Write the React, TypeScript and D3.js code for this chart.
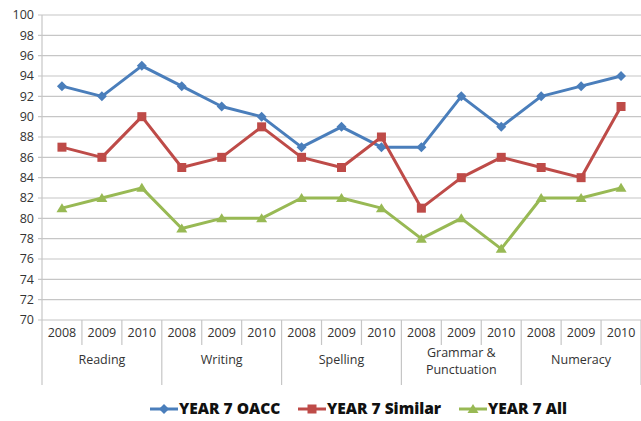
import React from "react";
import * as d3 from "d3";

const years = ["2008", "2009", "2010"];
const groups = ["Reading", "Writing", "Spelling", "Grammar &\nPunctuation", "Numeracy"];
const oacc = [93, 92, 95, 93, 91, 90, 87, 89, 87, 87, 92, 89, 92, 93, 94];
const similar = [87, 86, 90, 85, 86, 89, 86, 85, 88, 81, 84, 86, 85, 84, 91];
const all = [81, 82, 83, 79, 80, 80, 82, 82, 81, 78, 80, 77, 82, 82, 83];
const yTicks = d3.range(70, 101, 2);

const seriesNames = ["YEAR 7 OACC", "YEAR 7 Similar", "YEAR 7 All"];
const seriesColors = ["#4a7ebb", "#be4b48", "#98b954"];

const W = 641, H = 421;
const left = 42, right = 641, top = 15, bottom = 320;
const font = "'Open Sans', 'Noto Sans', sans-serif";

function Marker({ kind, x, y, color }: { kind: number; x: number; y: number; color: string }) {
  if (kind === 0) {
    const s = 5;
    return <path d={`M${x},${y - s}L${x + s},${y}L${x},${y + s}L${x - s},${y}Z`} fill={color} />;
  }
  if (kind === 1) {
    return <rect x={x - 4.5} y={y - 4.5} width={9} height={9} fill={color} />;
  }
  return <path d={`M${x},${y - 5}L${x + 5.5},${y + 4}L${x - 5.5},${y + 4}Z`} fill={color} />;
}

export default function App() {
  const cats = groups.flatMap((g, gi) => years.map((yr) => `${gi}-${yr}`));
  const x = d3.scaleBand<string>().domain(cats).range([left, right]);
  const y = d3.scaleLinear().domain([70, 100]).range([bottom, top]);
  const series = [oacc, similar, all];
  const line = d3
    .line<number>()
    .x((_, i) => (x(cats[i]) as number) + x.bandwidth() / 2)
    .y((d) => y(d));
  const bw = x.bandwidth();

  const legendX = [150, 298, 459];
  const ly = 409;

  return (
    <svg width={W} height={H} style={{ position: "absolute", left: 0, top: 0, background: "#fff" }} fontFamily={font}>
      {yTicks.map((t) => (
        <g key={t}>
          <line x1={left - 4} x2={right} y1={y(t)} y2={y(t)} stroke="#c6c6c6" strokeWidth={1.2} />
          <text x={left - 8} y={y(t)} dy="0.35em" textAnchor="end" fontSize={12.5} fill="#333">
            {t}
          </text>
        </g>
      ))}
      <line x1={left} x2={left} y1={top} y2={385} stroke="#c6c6c6" strokeWidth={1.2} />
      {cats.map((c, i) => {
        const x0 = x(c) as number;
        const isGroupEnd = (i + 1) % 3 === 0;
        return (
          <g key={c}>
            <line
              x1={x0 + bw}
              x2={x0 + bw}
              y1={bottom}
              y2={isGroupEnd ? 385 : 345}
              stroke="#c6c6c6"
              strokeWidth={1.2}
            />
            <text x={x0 + bw / 2} y={337} textAnchor="middle" fontSize={12.5} fill="#333">
              {years[i % 3]}
            </text>
          </g>
        );
      })}
      {groups.map((g, gi) => {
        const cx = (x(cats[gi * 3]) as number) + (bw * 3) / 2;
        const lines = g.split("\n");
        const y0 = lines.length === 1 ? 364 : 357;
        return (
          <text key={g} x={cx} textAnchor="middle" fontSize={12.5} fill="#333">
            {lines.map((l, li) => (
              <tspan key={li} x={cx} y={y0 + li * 17}>
                {l}
              </tspan>
            ))}
          </text>
        );
      })}
      {series.map((s, si) => (
        <g key={si}>
          <path d={line(s) || ""} fill="none" stroke={seriesColors[si]} strokeWidth={3} strokeLinejoin="round" />
          {s.map((v, i) => (
            <Marker key={i} kind={si} x={(x(cats[i]) as number) + bw / 2} y={y(v)} color={seriesColors[si]} />
          ))}
        </g>
      ))}
      {seriesNames.map((n, si) => (
        <g key={n}>
          <line x1={legendX[si]} x2={legendX[si] + 28} y1={ly} y2={ly} stroke={seriesColors[si]} strokeWidth={3} />
          <Marker kind={si} x={legendX[si] + 14} y={ly} color={seriesColors[si]} />
          <text x={legendX[si] + 29} y={ly} dy="0.35em" fontSize={15.5} fontWeight={800} fill="#111">
            {n}
          </text>
        </g>
      ))}
    </svg>
  );
}
